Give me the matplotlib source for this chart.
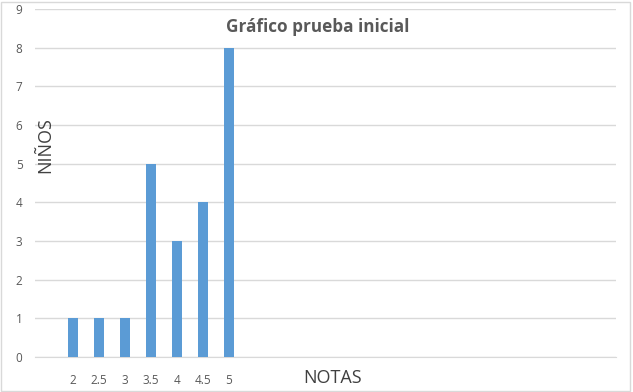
import matplotlib
matplotlib.use("Agg")
import matplotlib.pyplot as plt
from matplotlib.patches import Rectangle

# notas y cantidad de niños
notas = [2, 2.5, 3, 3.5, 4, 4.5, 5]
ninos = [1, 1, 1, 5, 3, 4, 8]
etiquetas = ["2", "2.5", "3", "3.5", "4", "4.5", "5"]

plt.rcParams['font.family'] = ['Open Sans', 'DejaVu Sans']

fig = plt.figure(figsize=(6.33, 3.92), dpi=100)
ax = fig.add_axes([35/633, 35/392, 581/633, 348/392])

ax.bar(notas, ninos, width=0.19, color='#5B9BD5', zorder=3)

ax.set_xlim(1.27, 12.44)
ax.set_ylim(0, 9)
ax.set_yticks(range(10))
ax.set_xticks(notas)
ax.set_xticklabels(etiquetas)
ax.grid(axis='y', color='#D9D9D9', linewidth=1, zorder=0)
for s in ['top', 'right', 'left']:
    ax.spines[s].set_visible(False)
ax.spines['bottom'].set_color('#D9D9D9')
ax.tick_params(length=0, colors='#595959', labelsize=8.5)
ax.tick_params(axis='y', pad=9)
ax.tick_params(axis='x', pad=12)

#titulo y etiquetas de ejes
fig.text(318/633, 1 - 27/392, 'Gráfico prueba inicial', ha='center', va='center',
         fontsize=12.3, fontweight='bold', color='#595959')
fig.text(45/633, 1 - 145/392, 'NIÑOS', rotation=90, ha='center', va='center',
         fontsize=13, color='#404040')
fig.text(333/633, 1 - 378/392, 'NOTAS', ha='center', va='center',
         fontsize=13, color='#404040')

# borde del grafico
fig.patches.append(Rectangle((0.002, 0.003), 0.994, 0.993, transform=fig.transFigure,
                             fill=False, edgecolor='#D9D9D9', linewidth=1))

fig.savefig('out.png', dpi=100)
